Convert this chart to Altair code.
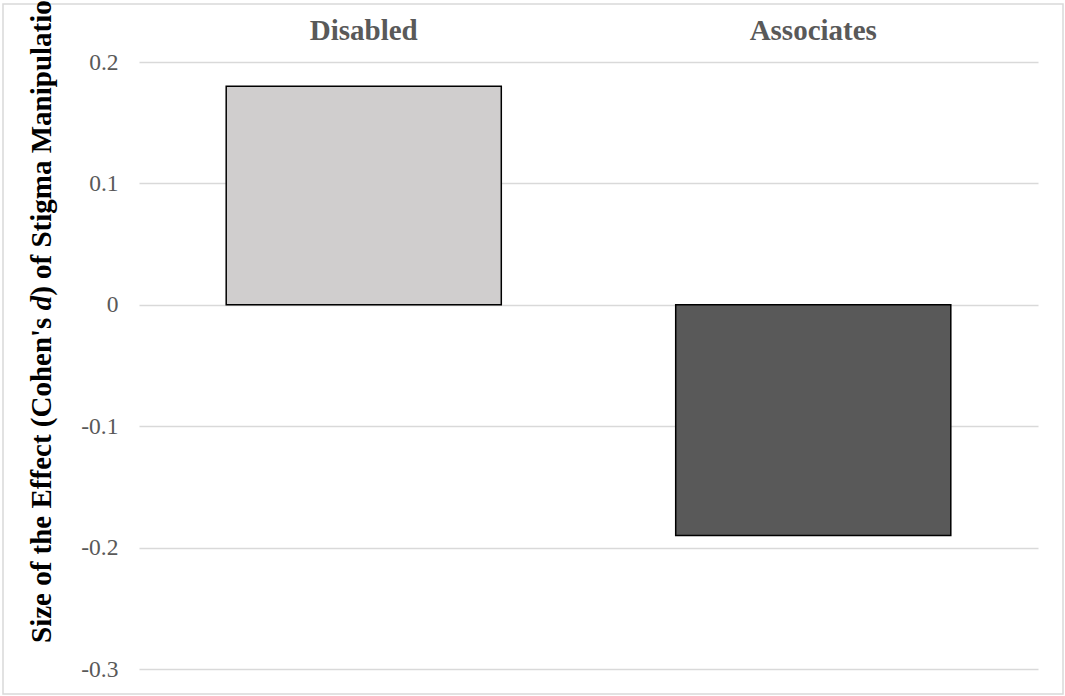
import altair as alt
import pandas as pd

# Effect of the stigma manipulation, by target group
groups = ["Disabled", "Associates"]
effect_sizes = [0.18, -0.19]
bar_colors = ["#d0cece", "#595959"]
y_ticks = [-0.3, -0.2, -0.1, 0.0, 0.1, 0.2]

# Axis title pieces (the "d" is set in italics)
title_parts = ["Size of the Effect (Cohen's ", "d", ") of Stigma Manipulation"]

df = pd.DataFrame({"group": groups, "d": effect_sizes})

SERIF = "Liberation Serif"
GREY_TEXT = "#595959"
GRID = "#d9d9d9"

W, H = 899, 607
LEFT, TOP, RIGHT, BOTTOM = 139, 62, 27, 27

bars = alt.Chart(df).mark_bar(stroke="black", strokeWidth=1.5).encode(
    x=alt.X(
        "group:N",
        sort=groups,
        scale=alt.Scale(paddingInner=0.388, paddingOuter=0.194),
        axis=alt.Axis(
            orient="top", title=None, ticks=False, domain=False, grid=False,
            labelAngle=0, labelFont=SERIF, labelFontSize=29,
            labelFontWeight="bold", labelColor=GREY_TEXT,
            labelBaseline="alphabetic", labelPadding=23,
        ),
    ),
    y=alt.Y(
        "d:Q",
        scale=alt.Scale(domain=[-0.3, 0.2], nice=False, zero=True),
        axis=alt.Axis(
            values=y_ticks, title=None, ticks=False, tickSize=0, domain=False,
            labelFont=SERIF, labelFontSize=23.5, labelColor=GREY_TEXT,
            labelPadding=21,
            labelExpr="datum.value == 0 ? '0' : replace(format(datum.value, '.1f'), '\u2212', '-')",
            grid=True, gridColor=GRID, gridWidth=1.5,
        ),
    ),
    color=alt.Color("group:N", scale=alt.Scale(domain=groups, range=bar_colors), legend=None),
)

# Rotated y-axis title, set as three runs so the "d" can be italic
one_row = alt.Data(values=[{}])
T_SIZE = 29
T_X = 51 - LEFT          # baseline of the rotated title
T_Y0 = 643 - TOP         # where the title starts (bottom end)
run1_len = 11.47 * T_SIZE
d_len = 0.5 * T_SIZE

def title_run(text, y, italic=False):
    return alt.Chart(one_row).mark_text(
        angle=270, align="left", baseline="alphabetic",
        font=SERIF, fontSize=T_SIZE, fontWeight="bold",
        fontStyle="italic" if italic else "normal", color="black",
    ).encode(x=alt.value(T_X), y=alt.value(y), text=alt.value(text))

t1 = title_run(title_parts[0], T_Y0)
t2 = title_run(title_parts[1], T_Y0 - run1_len, italic=True)
t3 = title_run(title_parts[2], T_Y0 - run1_len - d_len)

# Light frame around the whole chart
frame = alt.Chart(one_row).mark_rect(
    fillOpacity=0, stroke=GRID, strokeWidth=1.5
).encode(
    x=alt.value(3 - LEFT), x2=alt.value(1063 - LEFT),
    y=alt.value(4 - TOP), y2=alt.value(694 - TOP),
)

chart = alt.layer(frame, bars, t1, t2, t3).properties(
    width=W, height=H,
    autosize=alt.AutoSizeParams(type="none"),
    padding={"left": LEFT, "top": TOP, "right": RIGHT, "bottom": BOTTOM},
    background="white",
).configure_view(stroke=None)

chart.save("out.html", embed_options={"renderer": "svg", "actions": False})
